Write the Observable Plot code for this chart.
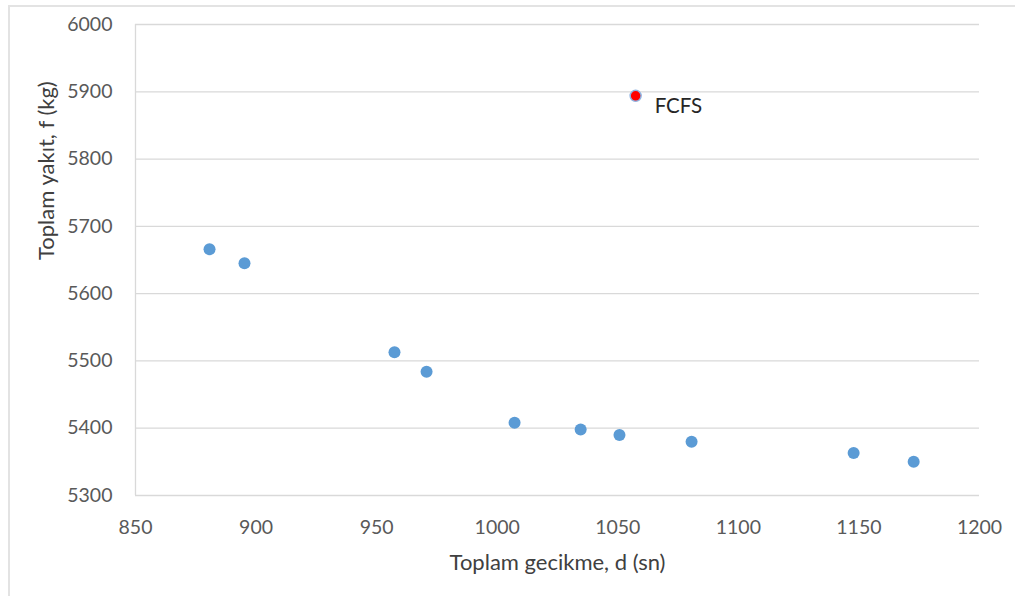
<!DOCTYPE html>
<html>
<head>
<meta charset="utf-8">
<script src="https://cdn.jsdelivr.net/npm/d3@7"></script>
<script src="https://cdn.jsdelivr.net/npm/@observablehq/plot@0.6"></script>
<style>
  html, body { margin: 0; padding: 0; background: #fff; }
  #wrap { position: relative; width: 1015px; height: 596px; overflow: hidden; }
  #border { position: absolute; left: 8px; top: 5px; width: 1020px; height: 600px; border: 2px solid #e3e3e3; box-sizing: border-box; }
  #chart { position: absolute; left: 0; top: 0; }
</style>
</head>
<body>
<div id="wrap"><div id="border"></div><div id="chart"></div></div>
<script>
// Pareto solutions (total delay in s, total fuel in kg)
const delays = [880.7, 895.2, 957.4, 970.7, 1007.2, 1034.6, 1050.7, 1080.6, 1147.8, 1172.7];
const fuels  = [5666, 5645, 5513, 5484, 5408, 5398, 5390, 5380, 5363, 5350];
// FCFS reference solution
const fcfsDelay = [1057.4];
const fcfsFuel  = [5894];
const fcfsLabel = ["FCFS"];
const xTicks = [850, 900, 950, 1000, 1050, 1100, 1150, 1200];
const yTicks = [5300, 5400, 5500, 5600, 5700, 5800, 5900, 6000];

const pts = delays.map((d, i) => ({d, f: fuels[i]}));
const fcfs = fcfsDelay.map((d, i) => ({d, f: fcfsFuel[i], label: fcfsLabel[i]}));
const fmt = d => String(d);

const chart = Plot.plot({
  width: 1015,
  height: 596,
  marginLeft: 135,
  marginRight: 36,
  marginTop: 24,
  marginBottom: 101,
  style: {fontFamily: "Lato, 'Open Sans', sans-serif", fontSize: "19.5px", color: "#595959", background: "transparent"},
  x: {domain: [850, 1200]},
  y: {domain: [5300, 6000]},
  marks: [
    Plot.gridY(yTicks, {stroke: "#d9d9d9", strokeOpacity: 1, strokeWidth: 1.3}),
    Plot.ruleX([850], {stroke: "#d9d9d9", strokeWidth: 1.3}),
    Plot.axisX({ticks: xTicks, tickFormat: fmt, tickSize: 0, tickPadding: 25, fontSize: 19.5, fill: "#595959",
      label: null}),
    Plot.axisY({ticks: yTicks, tickFormat: fmt, tickSize: 0, tickPadding: 23, fontSize: 19.5, fill: "#595959",
      label: null}),
    Plot.text(["Toplam gecikme, d (sn)"], {frameAnchor: "bottom", dy: 74, fontSize: 22, fill: "#404040"}),
    Plot.text(["Toplam yakıt, f (kg)"], {frameAnchor: "left", dx: -89, rotate: -90, fontSize: 22, fill: "#404040"}),
    Plot.dot(pts, {x: "d", y: "f", r: 6, fill: "#5b9bd5", stroke: "none"}),
    Plot.dot(fcfs, {x: "d", y: "f", r: 5.5, fill: "#ff0000", stroke: "#8fb4e3", strokeWidth: 1.5}),
    Plot.text(fcfs, {x: "d", y: "f", text: "label", dx: 19, dy: 11, textAnchor: "start", fontSize: 20.5, fill: "#262626"})
  ]
});
document.getElementById("chart").appendChild(chart);
</script>
</body>
</html>
